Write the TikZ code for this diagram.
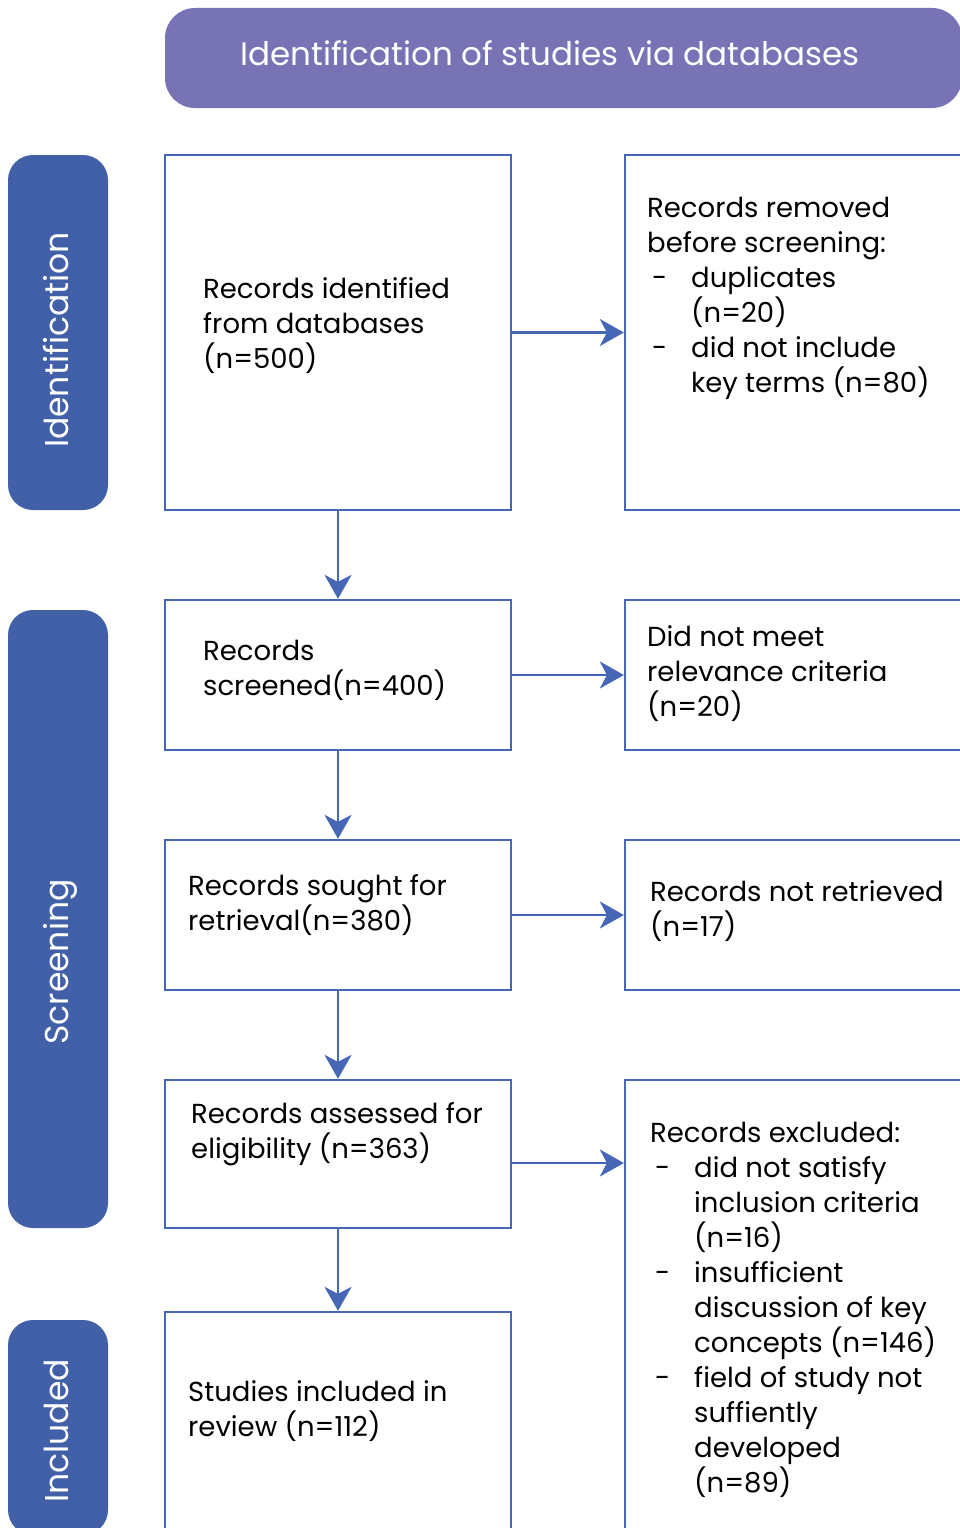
\documentclass[tikz,border=0pt]{standalone}
\usepackage{fontspec}
\setmainfont{Poppins}
\usetikzlibrary{arrows.meta}

\definecolor{titlepurple}{RGB}{120,115,180}
\definecolor{phaseblue}{RGB}{66,96,168}
\definecolor{lineblue}{RGB}{70,102,182}

\newcommand{\dashitem}{\makebox[44pt][l]{\hspace{5pt}-}}
\newcommand{\dashindent}{\hspace*{44pt}}

\tikzset{
  box/.style={draw=lineblue, line width=2.3pt, rectangle, minimum width=346pt, inner sep=0pt},
  sidebox/.style={box, minimum width=375pt},
  phase/.style={fill=phaseblue, rounded corners=25pt, minimum width=100pt, inner sep=0pt},
  phasetext/.style={white, rotate=90, anchor=base, inner sep=0pt, font=\fontsize{33}{40}\selectfont},
  boxtext/.style={anchor=base west, align=left, inner sep=0pt, font=\fontsize{27.5}{35}\selectfont},
  flow/.style={draw=lineblue, line width=2.3pt, -{Stealth[length=24pt,width=27pt,inset=7pt]}}
}

\begin{document}
\begin{tikzpicture}[x=1pt, y=-1pt]
              \useasboundingbox (0,0) rectangle (960,1528);
              \clip (0,0) rectangle (960,1528);

              \node [fill=titlepurple, rounded corners=30pt, minimum width=797pt, minimum height=100pt] (title) at (563.5,58) {};
              \node [white, anchor=base, font=\fontsize{32.5}{38}\selectfont] (titletext) at (550,66) {Identification of studies via databases};

              \node [phase, minimum height=355pt] (identification) at (58,332.5) {};
              \node [phasetext] (identificationtext) at (68,340) {Identification};
              \node [phase, minimum height=618pt] (screening) at (58,919) {};
              \node [phasetext] (screeningtext) at (68,962) {Screening};
              \node [phase, minimum height=215pt] (included) at (58,1427.5) {};
              \node [phasetext] (includedtext) at (68,1431) {Included};

              % text nodes sit on the baseline of their last line
              \node [box, minimum height=355pt] (identified) at (338,332.5) {};
              \node [boxtext] (identifiedtext) at (203,368) {Records identified\\from databases\\(n=500)};
              \node [box, minimum height=150pt] (screened) at (338,675) {};
              \node [boxtext] (screenedtext) at (203,695) {Records\\screened(n=400)};
              \node [box, minimum height=150pt] (sought) at (338,915) {};
              \node [boxtext] (soughttext) at (188,930) {Records sought for\\retrieval(n=380)};
              \node [box, minimum height=148pt] (assessed) at (338,1154) {};
              \node [boxtext] (assessedtext) at (191,1158) {Records assessed for\\eligibility (n=363)};
              \node [box, minimum height=248pt] (studies) at (338,1436) {};
              \node [boxtext] (studiestext) at (188,1436) {Studies included in\\review (n=112)};

              \node [sidebox, minimum height=355pt] (removed) at (812.5,332.5) {};
              \node [boxtext] (removedtext) at (647,392) {Records removed\\before screening:\\\dashitem duplicates\\\dashindent(n=20)\\\dashitem did not include\\\dashindent key terms (n=80)};
              \node [sidebox, minimum height=150pt] (relevance) at (812.5,675) {};
              \node [boxtext] (relevancetext) at (647,716) {Did not meet\\relevance criteria\\(n=20)};
              \node [sidebox, minimum height=150pt] (retrieved) at (812.5,915) {};
              \node [boxtext] (retrievedtext) at (650,936) {Records not retrieved\\(n=17)};
              \node [sidebox, minimum height=480pt] (excluded) at (812.5,1320) {};
              \node [boxtext] (excludedtext) at (650,1492) {Records excluded:\\\dashitem did not satisfy\\\dashindent inclusion criteria\\\dashindent(n=16)\\\dashitem insufficient\\\dashindent discussion of key\\\dashindent concepts (n=146)\\\dashitem field of study not\\\dashindent suffiently\\\dashindent developed\\\dashindent(n=89)};

              \draw [flow] (identified.south) -- (screened.north);
              \draw [flow] (screened.south) -- (sought.north);
              \draw [flow] (sought.south) -- (assessed.north);
              \draw [flow] (assessed.south) -- (studies.north);

              \draw [flow] (identified.east) -- (removed.west);
              \draw [flow] (screened.east) -- (relevance.west);
              \draw [flow] (sought.east) -- (retrieved.west);
              \draw [flow] ([yshift=-9pt]assessed.east) -- ([yshift=-9pt]assessed.east -| excluded.west);

            \end{tikzpicture}
\end{document}
